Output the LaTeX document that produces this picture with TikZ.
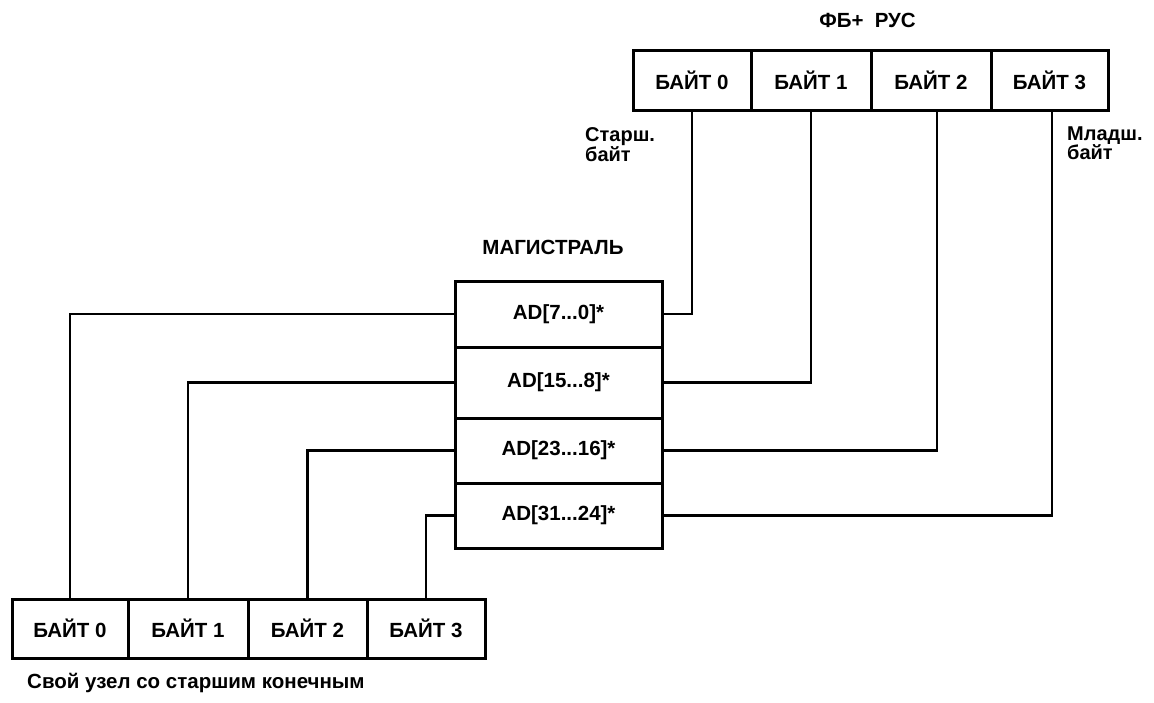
\documentclass[tikz,border=0pt]{standalone}
\usepackage{fontspec}
\setmainfont{Liberation Sans}
\usetikzlibrary{calc}
\begin{document}
\begin{tikzpicture}[x=1pt,y=-1pt,
  every node/.style={font=\fontsize{20.5}{23}\selectfont\bfseries, inner sep=0pt},
  cell/.style={draw, line width=3pt, rectangle, anchor=center},
  wire/.style={line width=2.8pt},
  lbl/.style={align=left, anchor=north west, font=\fontsize{20}{19}\selectfont\bfseries}]
\useasboundingbox (0,0) rectangle (1154,702);
% top register
\node[cell, minimum width=118pt, minimum height=60pt] (t0) at (692,80) {БАЙТ 0};
\node[cell, minimum width=120pt, minimum height=60pt] (t1) at (811,80) {БАЙТ 1};
\node[cell, minimum width=120pt, minimum height=60pt] (t2) at (931,80) {БАЙТ 2};
\node[cell, minimum width=117pt, minimum height=60pt] (t3) at (1049.5,80) {БАЙТ 3};
\node (ttl) at (867.5,20) {ФБ+\hspace{0.55em}РУС};
\node[lbl] (st) at (585,127) {Старш.\\байт};
\node[lbl] (ml) at (1067,127) {Младш.\\байт};
% bus
\node (bt) at (553,247) {МАГИСТРАЛЬ};
\node[cell, minimum width=207pt, minimum height=66pt] (r0) at (558.5,314) {AD[7...0]*};
\node[cell, minimum width=207pt, minimum height=71pt] (r1) at (558.5,382.5) {AD[15...8]*};
\node[cell, minimum width=207pt, minimum height=65pt] (r2) at (558.5,450.5) {AD[23...16]*};
\node[cell, minimum width=207pt, minimum height=65pt] (r3) at (558.5,515.5) {AD[31...24]*};
% bottom register
\node[cell, minimum width=116pt, minimum height=59pt] (b0) at (70,628.5) {БАЙТ 0};
\node[cell, minimum width=120pt, minimum height=59pt] (b1) at (188,628.5) {БАЙТ 1};
\node[cell, minimum width=119pt, minimum height=59pt] (b2) at (307.5,628.5) {БАЙТ 2};
\node[cell, minimum width=118pt, minimum height=59pt] (b3) at (426,628.5) {БАЙТ 3};
\node[anchor=west] (cap) at (27,683) {Свой узел со старшим конечным};
% wires top
\draw[wire] (t0.south) |- (r0.east);
\draw[wire] (t1.south) |- (r1.east);
\draw[wire] ([xshift=6pt]t2.south) |- (r2.east);
\draw[wire] ([xshift=2.5pt]t3.south) |- (r3.east);
% wires bottom
\draw[wire] (r0.west) -| (b0.north);
\draw[wire] (r1.west) -| (b1.north);
\draw[wire] (r2.west) -| (b2.north);
\draw[wire] (r3.west) -| (b3.north);
\end{tikzpicture}
\end{document}
